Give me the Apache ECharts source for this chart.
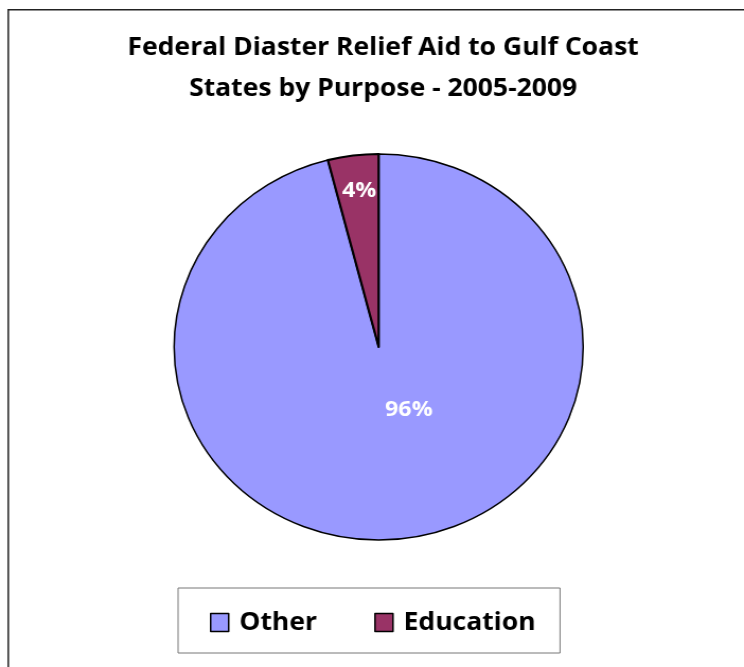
<!DOCTYPE html>
<html>
<head>
<meta charset="utf-8">
<script src="https://cdn.jsdelivr.net/npm/echarts@6/dist/echarts.min.js"></script>
<style>
  html, body { margin: 0; padding: 0; background: #fff; overflow: hidden; }
  #wrap { width: 744px; height: 667px; overflow: hidden; position: relative; }
  /* the chart is laid out narrower and stretched sideways, so the pie reads as a slightly wide oval */
  #chart { width: 702px; height: 667px; transform: scaleX(1.0598); transform-origin: 0 0; }
</style>
</head>
<body>
<div id="wrap"><div id="chart"></div></div>
<script>
const titleLines = ['Federal Diaster Relief Aid to Gulf Coast', 'States by Purpose - 2005-2009'];
const categories = ['Other', 'Education'];
const shares = [96, 4];
const colors = ['#9999FF', '#993366'];
const borderWidths = [1.5, 2.2];

const FONT = '"Open Sans"';

const chart = echarts.init(document.getElementById('chart'), null, { renderer: 'canvas' });

// nudges that place each percentage label within its slice
const labelNudge = [
  { dx: 16, dy: -36 },
  { dx: -6, dy: -58 }
];

chart.setOption({
  backgroundColor: '#ffffff',
  animation: false,
  color: colors,
  title: {
    text: titleLines.join('\n'),
    left: 356.5,
    textAlign: 'center',
    top: 22,
    textStyle: {
      fontFamily: FONT,
      fontWeight: 'bold',
      fontSize: 25,
      lineHeight: 41,
      color: '#000'
    }
  },
  legend: {
    data: categories,
    left: 168,
    top: 588,
    orient: 'horizontal',
    icon: 'rect',
    itemWidth: 17,
    itemHeight: 18,
    itemGap: 54,
    padding: [22, 23, 18, 30],
    borderColor: '#777',
    borderWidth: 1,
    selectedMode: false,
    itemStyle: { borderColor: '#000', borderWidth: 1.5 },
    textStyle: {
      fontFamily: FONT,
      fontWeight: 'bold',
      fontSize: 25,
      color: '#000',
      padding: [0, 0, 0, 5]
    }
  },
  graphic: [{
    type: 'rect',
    shape: { x: 7.8, y: 9.8, width: 900, height: 900 },
    style: { fill: 'none', stroke: '#222', lineWidth: 1.5 },
    silent: true
  }],
  series: [{
    type: 'pie',
    center: [357.3, 347],
    radius: [0, 193],
    startAngle: 90,
    clockwise: true,
    avoidLabelOverlap: false,
    label: {
      show: true,
      position: 'inside',
      formatter: '{d}%',
      color: '#ffffff',
      fontFamily: FONT,
      fontWeight: 'bold',
      fontSize: 22
    },
    labelLine: { show: false },
    labelLayout: function (p) { return labelNudge[p.dataIndex]; },
    emphasis: { disabled: true },
    data: categories.map((name, i) => ({
      name: name,
      value: shares[i],
      itemStyle: { color: colors[i], borderColor: '#000', borderWidth: borderWidths[i] }
    }))
  }]
});
</script>
</body>
</html>
